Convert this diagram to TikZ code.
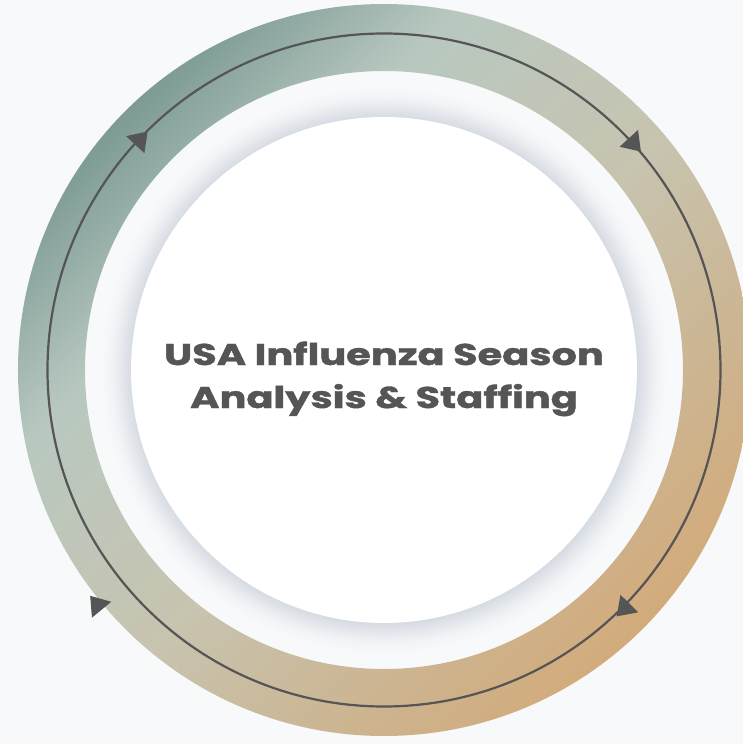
\documentclass[tikz,border=0pt]{standalone}
\usepackage{fontspec}
\usepackage{graphicx}
\newfontfamily\titlefont{Poppins}[FakeBold=1.2]

% palette
\definecolor{bgc}{HTML}{F8F9FA}
\definecolor{ringA}{HTML}{7E9B96}
\definecolor{ringB}{HTML}{B8C8C0}
\definecolor{ringC}{HTML}{C7C4B0}
\definecolor{ringD}{HTML}{CCB592}
\definecolor{ringE}{HTML}{D2AB7B}
\definecolor{haloA}{HTML}{D6DBE3}
\definecolor{haloB}{HTML}{E5E8ED}
\definecolor{haloC}{HTML}{F2F3F6}
\definecolor{inkgray}{HTML}{555555}

% diagonal gradient of the outer band
\pgfdeclarehorizontalshading{ringshade}{100bp}{%
  color(0bp)=(ringA); color(25bp)=(ringA); color(36bp)=(ringB);
  color(52bp)=(ringC); color(65bp)=(ringD); color(75bp)=(ringE);
  color(100bp)=(ringE)}
% soft halo around the central disc (25bp = 290pt)
\pgfdeclareradialshading{haloshade}{\pgfpoint{0bp}{0bp}}{%
  color(0bp)=(haloA); color(21.8bp)=(haloA); color(22.7bp)=(haloB);
  color(23.5bp)=(haloC); color(24.4bp)=(bgc); color(50bp)=(bgc)}

\tikzset{
  band/.style={shading=ringshade, shading angle=-45, even odd rule},
  cycleline/.style={draw=inkgray, line width=2.2pt},
  titletext/.style={text=inkgray, font=\titlefont\bfseries\fontsize{30}{36}\selectfont,
    anchor=base, inner sep=0pt},
  pics/flowtip/.style={code={
    \fill[inkgray] (12pt,0) -- (-6pt,12.5pt) -- (-6pt,-12.5pt) -- cycle;}}
}

\begin{document}
\begin{tikzpicture}[x=1pt,y=1pt]
  \useasboundingbox[fill=bgc] (-384,-374) rectangle (359,370);

  % outer band
  \shade[band] (0,0) circle[radius=366] (0,0) circle[radius=299];

  % central disc with its halo
  \shade[shading=haloshade] (0,0) circle[radius=290];
  \fill[white] (0,0) circle[radius=253];

  % cycle line and its arrowheads (clockwise)
  \draw[cycleline] (0,0) circle[radius=336.5];
  \pic[rotate=46.8]   at (136.8:335.6) {flowtip};
  \pic[rotate=-47.6]  at (42.4:337)    {flowtip};
  \pic[rotate=-134.6] at (-44.6:338.7) {flowtip};
  \pic[rotate=129.4]  at (219.4:370.4) {flowtip};

  % title
  \node[titletext] (line1) at (0,5)   {\scalebox{1.33}[1]{USA Influenza Season}};
  \node[titletext] (line2) at (0,-38) {\scalebox{1.33}[1]{Analysis \& Staffing}};
\end{tikzpicture}
\end{document}
